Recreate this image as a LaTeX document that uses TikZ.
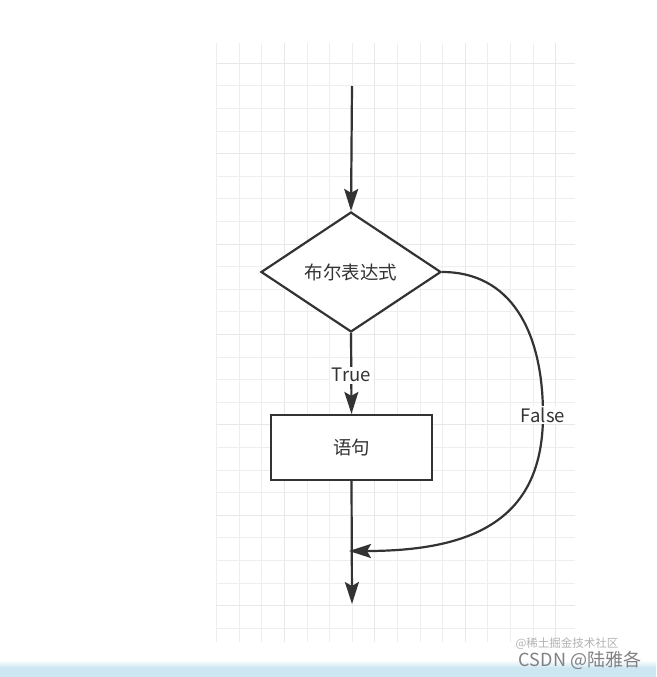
\documentclass[tikz,border=0pt]{standalone}
\usepackage{fontspec}
\setmainfont{Noto Sans CJK SC}
\usetikzlibrary{shapes.geometric,arrows.meta}
\definecolor{ink}{RGB}{51,51,51}
\definecolor{gridminor}{RGB}{238,238,238}
\definecolor{gridmajor}{RGB}{232,232,232}
\definecolor{band}{RGB}{204,230,242}
\tikzset{
  conn/.style={draw=ink, line width=2.2pt},
  arr/.style={conn, -{Stealth[length=22pt,width=14pt,inset=4pt]}},
  lbl/.style={fill=white, inner sep=1.5pt, text=ink, font=\fontsize{18.5}{21}\selectfont},
  boxtext/.style={text=ink, font=\fontsize{18.5}{21}\selectfont},
  decision/.style={diamond, draw=ink, line width=2.2pt, fill=white, minimum width=180pt, minimum height=120pt, inner sep=0pt, aspect=1.5},
  stmt/.style={rectangle, draw=ink, line width=2.2pt, fill=white, minimum width=161pt, minimum height=65pt, inner sep=0pt},
}
\begin{document}
\begin{tikzpicture}[x=1pt,y=-1pt]
\useasboundingbox (0,0) rectangle (656,677);
\fill[white] (0,0) rectangle (656,677);
% grid
\foreach \k in {0,...,15}{
  \pgfmathsetmacro{\gx}{216.7+22.6*\k}
  \pgfmathtruncatemacro{\mj}{mod(\k,4)==3 ? 1 : 0}
  \ifnum\mj=1
    \draw[gridmajor, line width=1.1pt] (\gx,43) -- (\gx,642);
  \else
    \draw[gridminor, line width=1pt] (\gx,43) -- (\gx,642);
  \fi
}
\foreach \k in {0,...,25}{
  \pgfmathsetmacro{\gy}{63.3+22.6*\k}
  \pgfmathtruncatemacro{\mj}{mod(\k,4)==0 ? 1 : 0}
  \ifnum\mj=1
    \draw[gridmajor, line width=1.1pt] (216,\gy) -- (575,\gy);
  \else
    \draw[gridminor, line width=1pt] (216,\gy) -- (575,\gy);
  \fi
}
% bottom band
\shade[top color=white, bottom color=band] (0,660) rectangle (656,668);
\fill[band] (0,668) rectangle (656,677);
% flowchart
\coordinate (s) at (352,86);
\node[decision] (d) at (351,272) {};
\node[boxtext] (dt) at (d.center) {布尔表达式};
\node[stmt] (r) at (351.5,447.5) {};
\node[boxtext] (rt) at (r.center) {语句};
\coordinate (e) at (352,604);
\coordinate (m) at (349,551);
\draw[arr] (s) -- (d.north);
\draw[arr] (d.south) -- node[lbl, pos=0.52] (tl) {True} (r.north);
\draw[arr] (r.south) -- (e);
\draw[arr] (d.east) .. controls (510,272) and (543,330) .. node[lbl, pos=1] (fl) {False} (543,415)
  .. controls (543,515) and (480,551) .. (m);
% watermark
\node[text=black!30, font=\fontsize{11.5}{13}\selectfont] (w1) at (567,644) {@稀土掘金技术社区};
\node[text=black!50, font=\fontsize{18}{20}\selectfont] (w2) at (580,660) {CSDN @陆雅各};
\end{tikzpicture}
\end{document}
